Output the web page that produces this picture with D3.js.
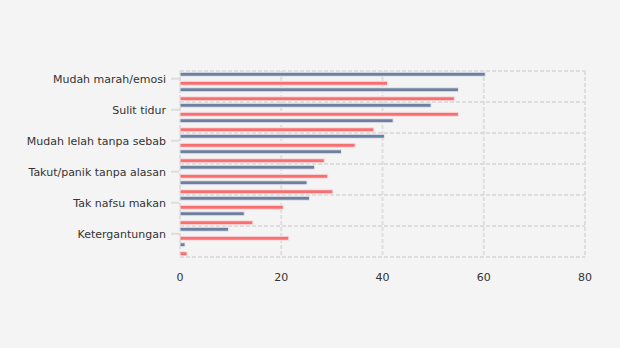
<!DOCTYPE html>
<html>
<head>
<meta charset="utf-8">
<script src="https://cdn.jsdelivr.net/npm/d3@7"></script>
<style>
  html, body { margin: 0; padding: 0; background: #f4f4f4; }
  svg { display: block; }
  text { font-family: "DejaVu Sans", Verdana, sans-serif; }
</style>
</head>
<body>
<svg id="chart" width="620" height="348"></svg>
<script>
// Category labels (only every second category is labelled in the reference)
const categories = [
  "Mudah marah/emosi", "",
  "Sulit tidur", "",
  "Mudah lelah tanpa sebab", "",
  "Takut/panik tanpa alasan", "",
  "Tak nafsu makan", "",
  "Ketergantungan", ""
];
const seriesA = [60.3, 55.0, 49.6, 42.1, 40.4, 31.9, 26.6, 25.1, 25.6, 12.7, 9.6, 1.0];
const seriesB = [41.0, 54.2, 55.0, 38.3, 34.6, 28.5, 29.2, 30.2, 20.4, 14.4, 21.5, 1.4];
const xTicks = [0, 20, 40, 60, 80];
const colorA = "#6d809d";
const colorB = "#fa6e70";

const svg = d3.select("#chart");
const margin = { left: 180, right: 35, top: 71, bottom: 91 };
const W = 620, H = 348;
const x = d3.scaleLinear().domain([0, 80]).range([margin.left, W - margin.right]);
const idx = d3.range(categories.length);
const y = d3.scaleBand().domain(idx).range([margin.top, H - margin.bottom]).paddingInner(0).paddingOuter(0);

const grid = svg.append("g");
// horizontal gridlines at every second category boundary
const hLines = idx.filter(i => i % 2 === 0).map(i => y(i)).concat([y.range()[1]]);
grid.selectAll("line.h").data(hLines).join("line")
  .attr("x1", x(0)).attr("x2", x(80))
  .attr("y1", d => d).attr("y2", d => d)
  .attr("stroke", "#dddddd").attr("stroke-width", 2).attr("stroke-dasharray", "4,2");
grid.selectAll("line.v").data(xTicks).join("line")
  .attr("x1", d => x(d)).attr("x2", d => x(d))
  .attr("y1", y.range()[0]).attr("y2", y.range()[1])
  .attr("stroke", "#dddddd").attr("stroke-width", 2).attr("stroke-dasharray", "4,2");

// y-axis ticks + labels
const yl = svg.append("g");
const labelled = idx.filter(i => categories[i] !== "");
yl.selectAll("line").data(labelled).join("line")
  .attr("x1", 171).attr("x2", 179)
  .attr("y1", i => y(i) + y.bandwidth() / 2).attr("y2", i => y(i) + y.bandwidth() / 2)
  .attr("stroke", "#dddddd").attr("stroke-width", 2);
yl.selectAll("text").data(labelled).join("text")
  .attr("x", 166).attr("y", i => y(i) + y.bandwidth() / 2)
  .attr("dy", "0.35em").attr("text-anchor", "end")
  .attr("font-size", 11).attr("fill", "#333")
  .text(i => categories[i]);

// x-axis labels
svg.append("g").selectAll("text").data(xTicks).join("text")
  .attr("x", d => x(d)).attr("y", 281)
  .attr("text-anchor", "middle").attr("font-size", 11).attr("fill", "#333")
  .text(d => d);

// bars
const barH = 4;
const off = 4.5;
const bars = svg.append("g");
bars.selectAll("rect.a").data(seriesA).join("rect")
  .attr("x", x(0)).attr("width", d => x(d) - x(0))
  .attr("y", (d, i) => y(i) + y.bandwidth() / 2 - off - barH / 2)
  .attr("height", barH)
  .attr("fill", colorA).attr("stroke", "#e9e9ef").attr("stroke-width", 1);
bars.selectAll("rect.b").data(seriesB).join("rect")
  .attr("x", x(0)).attr("width", d => x(d) - x(0))
  .attr("y", (d, i) => y(i) + y.bandwidth() / 2 + off - barH / 2)
  .attr("height", barH)
  .attr("fill", colorB).attr("stroke", "#f3e3e6").attr("stroke-width", 1);
</script>
</body>
</html>
